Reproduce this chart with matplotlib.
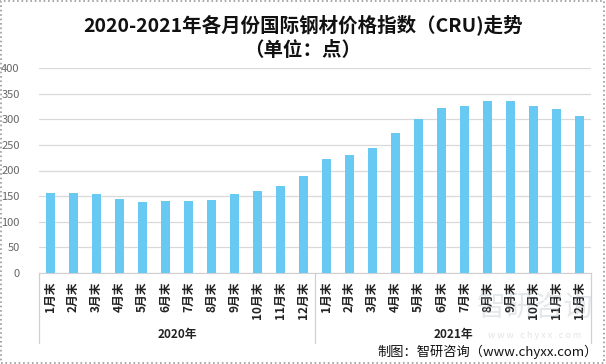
import numpy as np
import matplotlib.pyplot as plt
from matplotlib.patches import Rectangle

plt.rcParams['font.family'] = ['Noto Sans CJK SC', 'DejaVu Sans']

# data
months = ['1月末', '2月末', '3月末', '4月末', '5月末', '6月末',
          '7月末', '8月末', '9月末', '10月末', '11月末', '12月末']
years = ['2020年', '2021年']
values_2020 = [156, 156, 154, 144, 138, 140, 140, 142, 154, 160, 170, 189]
values_2021 = [222, 230, 244, 273, 300, 322, 326, 335, 335, 326, 320, 306]
yticks = [0, 50, 100, 150, 200, 250, 300, 350, 400]

values = values_2020 + values_2021
labels = months + months
x = np.arange(len(values))

fig = plt.figure(figsize=(6.06, 3.64), dpi=100)
ax = fig.add_axes([39 / 606, 91 / 364, 552 / 606, 205 / 364])

ax.bar(x, values, width=0.36, color='#68CAF2', zorder=3)
ax.set_xlim(-0.5, len(values) - 0.5)
ax.set_ylim(0, 400)
ax.set_yticks(yticks)
ax.tick_params(axis='y', length=0, labelsize=8, labelcolor='#666666', pad=14)
ax.set_xticks([])
ax.grid(axis='y', color='#d9d9d9', linewidth=0.9, zorder=0)
for s in ['top', 'right', 'left']:
    ax.spines[s].set_visible(False)
ax.spines['bottom'].set_color('#d0d0d0')

# month labels, rotated
for i, lab in enumerate(labels):
    ax.text(i, -0.04, lab, transform=ax.get_xaxis_transform(), rotation=90,
            ha='center', va='top', fontsize=8.5, fontweight='bold', color='#222222')

# group separators and year labels
for gx in [0, 0.5, 1]:
    ax.plot([gx, gx], [0, -0.34], transform=ax.transAxes, color='#d0d0d0',
            linewidth=0.9, clip_on=False)
for j, yr in enumerate(years):
    ax.text(0.25 + 0.5 * j, -0.3, yr, transform=ax.transAxes, ha='center',
            va='center', fontsize=8.5, fontweight='bold', color='#222222')

# title
fig.text(0.5, 1 - 25 / 364, '2020-2021年各月份国际钢材价格指数（CRU)走势',
         ha='center', va='center', fontsize=14, fontweight='bold', color='#111111')
fig.text(0.5, 1 - 50 / 364, '（单位：点）', ha='center', va='center',
         fontsize=14, fontweight='bold', color='#111111')

# faint watermark and source
fig.text(535 / 606, 1 - 308 / 364, '智研咨询', ha='center', va='center',
         fontsize=21, color='#a9b3bd', alpha=0.3, zorder=0)
fig.text(535 / 606, 1 - 336 / 364, 'w w w . c h y x x . c o m', ha='center',
         va='center', fontsize=6.5, color='#a9b3bd', alpha=0.35, zorder=0)
fig.text(598 / 606, 1 - 352 / 364, '制图：智研咨询（www.chyxx.com）', ha='right',
         va='center', fontsize=9.5, color='#111111')

fig.patches.append(Rectangle((0.002, 0.003), 0.995, 0.994, transform=fig.transFigure,
                             fill=False, edgecolor='#999999', linewidth=1.2,
                             linestyle=':'))

fig.savefig('out.png', dpi=100)
